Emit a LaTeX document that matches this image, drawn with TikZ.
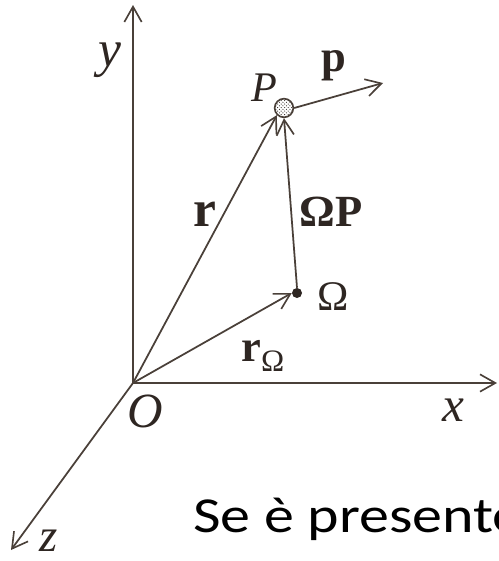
\documentclass[tikz,border=0pt]{standalone}
\usepackage{fontspec}
\setmainfont{Liberation Serif}
\newfontfamily\notefont{Carlito}
\usetikzlibrary{arrows.meta,patterns}
\definecolor{AxInk}{HTML}{4A4039}
\definecolor{AxText}{HTML}{2E2622}
\tikzset{
  vec/.style={AxInk,line width=1.5pt,-{Straight Barb[length=4.6mm,width=5.2mm,line width=1.4pt]}},
  lbl/.style={text=AxText,inner sep=0pt,font=\fontsize{38}{38}\selectfont},
}

\begin{document}
\begin{tikzpicture}[x=0.03cm,y=-0.03cm]
\path[use as bounding box] (0,0) rectangle (498,561);
% axes
\coordinate (O) at (133,383);
\coordinate (ytip) at (133,5);
\coordinate (xtip) at (497,383);
\coordinate (ztip) at (11,550);
\draw[vec] (O) -- (ytip);
\draw[vec] (O) -- (xtip);
\draw[vec] (O) -- (ztip);
% points
\node[circle,draw=AxInk,line width=1.4pt,minimum size=0.56cm,inner sep=0pt,
      pattern=crosshatch dots,pattern color=AxText] (P) at (284,108) {};
\node[circle,fill=AxText,minimum size=0.3cm,inner sep=0pt] (W) at (297,293) {};
\coordinate (pend) at (383,83);
% vectors
\draw[vec] (O) -- (P.south west);
\draw[vec] (W.north) -- (P.south);
\draw[vec] (O) -- (W.west);
\draw[vec] (P.east) -- (pend);
% labels
\node[lbl,font=\fontsize{44}{44}\selectfont] (ylbl) at (110,60) {\textit{y}};
\node[lbl,font=\fontsize{42}{42}\selectfont] (xlbl) at (453,410) {\textit{x}};
\node[lbl,font=\fontsize{40}{40}\selectfont] (zlbl) at (49,541) {\textit{z}};
\node[lbl,font=\fontsize{42}{42}\selectfont] (olbl) at (145,411) {\textit{O}};
\node[lbl,font=\fontsize{36}{36}\selectfont] (plbl) at (264,88) {\textit{P}};
\node[lbl] (pvec) at (334,66) {\textbf{p}};
\node[lbl,font=\fontsize{44}{44}\selectfont] (rvec) at (205,214) {\textbf{r}};
\node[lbl] (wpvec) at (331,212) {\textbf{ΩP}};
\node[lbl,font=\fontsize{36}{36}\selectfont] (wlbl) at (333,297) {Ω};
\node[lbl,font=\fontsize{38}{38}\selectfont] (rwvec) at (263,356) {\textbf{r}\textsubscript{Ω}};
% caption text
\node[anchor=base west,inner sep=0pt,xscale=1.19,font=\notefont\fontsize{43}{43}\selectfont] (note) at (193,532) {Se è presente};
\end{tikzpicture}
\end{document}
